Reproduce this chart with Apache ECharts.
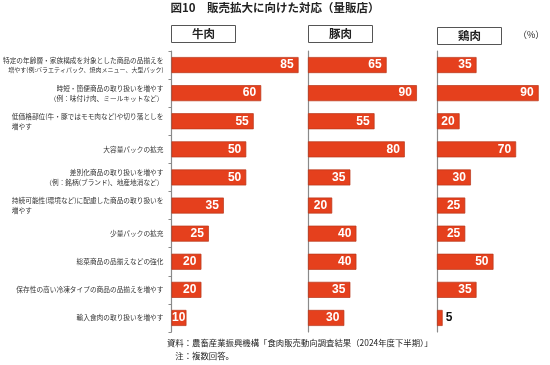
<!DOCTYPE html>
<html><head><meta charset="utf-8">
<script src="https://cdn.jsdelivr.net/npm/echarts@6/dist/echarts.min.js"></script>
<style>html,body{margin:0;padding:0;background:#fff}#c{width:550px;height:365px}</style>
</head><body><div id="c"></div>
<script>
const categories = [
  "特定の年齢層・家族構成を対象とした商品の品揃えを\n増やす(例:バラエティパック、焼肉メニュー、大型パック)",
  "時短・簡便商品の取り扱いを増やす\n（例：味付け肉、ミールキットなど）",
  "低価格部位(牛・豚ではモモ肉など)や切り落としを\n増やす",
  "大容量パックの拡充",
  "差別化商品の取り扱いを増やす\n（例：銘柄(ブランド)、地産地消など）",
  "持続可能性(環境など)に配慮した商品の取り扱いを\n増やす",
  "少量パックの拡充",
  "総菜商品の品揃えなどの強化",
  "保存性の高い冷凍タイプの商品の品揃えを増やす",
  "輸入食肉の取り扱いを増やす"
];
const panelNames = ["牛肉", "豚肉", "鶏肉"];
const beef = [85, 60, 55, 50, 50, 35, 25, 20, 20, 10];
const pork = [65, 90, 55, 80, 35, 20, 40, 40, 35, 30];
const chicken = [35, 90, 20, 70, 30, 25, 25, 50, 35, 5];
const titleText = "図10　販売拡大に向けた対応（量販店）";
const unitText = "（%）";
const sourceText = "資料：農畜産業振興機構「食肉販売動向調査結果（2024年度下半期）」";
const noteText = "　注：複数回答。";

const FONT = '"Noto Sans CJK JP", sans-serif';
const BAR = '#E5401D';
const BORDER = '#B8361A';
const grids = [
  {left: 171, width: 150},
  {left: 308, width: 121},
  {left: 437, width: 117}
];
const seriesData = [beef, pork, chicken];

function catFormatter(v) {
  const lines = v.split('\n');
  if (lines.length === 2 && lines[1] === '増やす') {
    return lines[0] + '\n{l|' + lines[1] + '}';
  }
  if (lines.length === 2 && lines[1].length > 24) {
    return lines[0] + '\n{s|' + lines[1] + '}';
  }
  return v;
}

const option = {
  animation: false,
  grid: grids.map(g => ({left: g.left, width: g.width, top: 51, height: 281, containLabel: false})),
  xAxis: grids.map((g, i) => ({gridIndex: i, type: 'value', min: 0, max: 100, show: false})),
  yAxis: grids.map((g, i) => ({
    gridIndex: i, type: 'category', data: categories, inverse: true,
    axisLine: {show: true, lineStyle: {color: '#8a8a8a', width: 1.2}},
    axisTick: {show: i === 0, length: 3, lineStyle: {color: '#8a8a8a'}},
    axisLabel: i === 0 ? {
      show: true, margin: 8, fontSize: 6.7, lineHeight: 10, color: '#333', fontFamily: FONT,
      align: 'right', formatter: catFormatter,
      rich: {
        l: {align: 'left', fontSize: 6.7, lineHeight: 10, color: '#333', fontFamily: FONT},
        s: {fontSize: 6.0, lineHeight: 10, color: '#333', fontFamily: FONT}
      }
    } : {show: false}
  })),
  series: seriesData.map((d, i) => ({
    type: 'bar', xAxisIndex: i, yAxisIndex: i, barWidth: 16,
    itemStyle: {color: BAR, borderColor: BORDER, borderWidth: 0.7},
    data: d.map(v => v < 10 ? {
      value: v,
      label: {position: 'right', color: '#111', distance: 3}
    } : (v < 15 ? {value: v, label: {distance: 1}} : v)),
    label: {
      show: true, position: 'insideRight', distance: 5, color: '#fff',
      fontSize: 12, fontWeight: 'bold', fontFamily: '"Liberation Sans", Arial, sans-serif'
    }
  })),
  graphic: [
    {type: 'text', left: 'center', top: 2, style: {text: titleText, font: 'bold 11.5px ' + FONT, fill: '#222'}},
    ...panelNames.map((n, i) => {
      const x = grids[i].left, y = i === 2 ? 27 : 25;
      return {type: 'group', x: x, y: y, children: [
        {type: 'rect', shape: {x: 0.5, y: 0.5, width: 64, height: 17}, style: {fill: '#fff', stroke: '#555', lineWidth: 1}},
        {type: 'text', x: 32.5, y: 9, style: {text: n, font: 'bold 11.5px ' + FONT, fill: '#222', align: 'center', verticalAlign: 'middle'}}
      ]};
    }),
    {type: 'text', x: 518, y: 30, style: {text: unitText, font: '9px ' + FONT, fill: '#222'}},
    {type: 'text', x: 167, y: 339, style: {text: sourceText, font: '8.4px ' + FONT, fill: '#222'}},
    {type: 'text', x: 167, y: 352, style: {text: noteText, font: '8.4px ' + FONT, fill: '#222'}}
  ]
};
const chart = echarts.init(document.getElementById('c'), null, {renderer: 'canvas'});
chart.setOption(option);
</script></body></html>
